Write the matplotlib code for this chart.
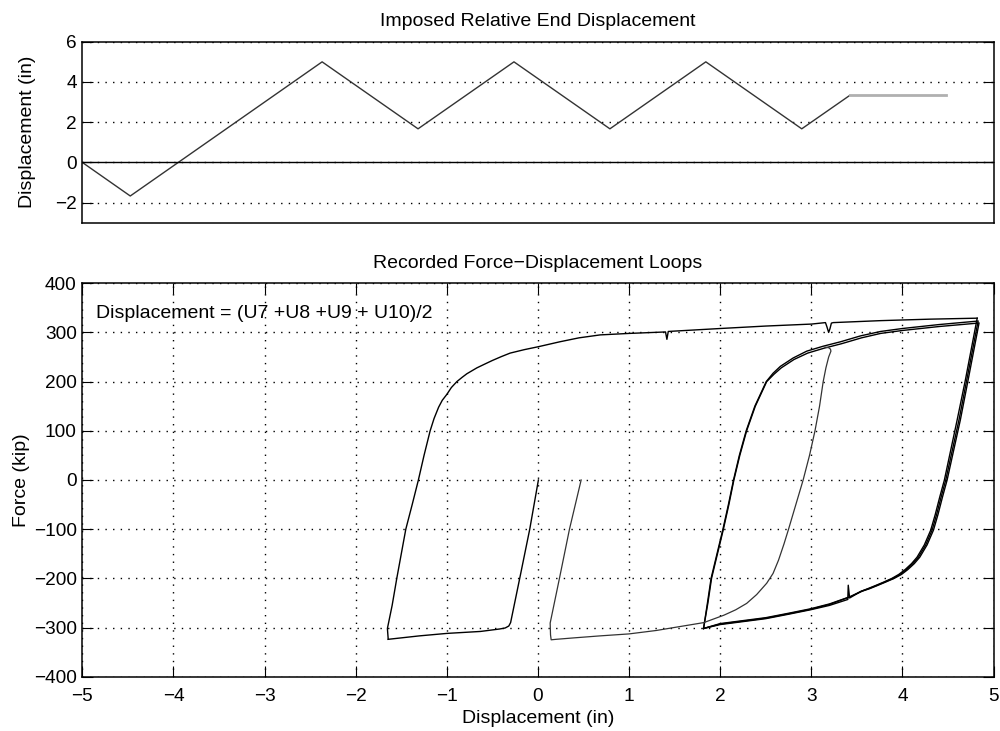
import matplotlib
matplotlib.use("Agg")
import matplotlib.pyplot as plt

plt.rcParams['font.family'] = ['Liberation Sans', 'DejaVu Sans']
plt.rcParams['axes.unicode_minus'] = True

# ---------------- Top panel: imposed displacement history ----------------
step_t = [0, 1, 5, 7, 9, 11, 13, 15, 16]
step_d = [0, -1.67, 5, 1.67, 5, 1.67, 5, 1.67, 3.33]
hold_t = [16, 18]
hold_d = [3.33, 3.33]
top_yticks = [-2, 0, 2, 4, 6]

# ---------------- Bottom panel: force-displacement loops ----------------
# initial push to negative
init_x = [0.005, -0.09, -0.20, -0.30, -0.32, -0.36, -0.42, -0.63, -1.00, -1.30, -1.643]
init_f = [0, -100, -200, -290, -297, -301, -303, -308, -312, -317, -324]

# first full loading branch (negative corner to positive peak)
load1_x = [-1.643, -1.652, -1.60, -1.549, -1.45, -1.38, -1.312, -1.25, -1.183,
           -1.14, -1.09, -1.05, -1.00, -0.95, -0.89, -0.83, -0.78, -0.67, -0.58,
           -0.50, -0.40, -0.305, -0.15, 0.005, 0.24, 0.45, 0.683, 1.0, 1.40,
           1.415, 1.43, 2.0, 2.5, 3.0, 3.155, 3.17, 3.19, 3.205, 3.22, 3.24,
           3.76, 4.3, 4.82]
load1_f = [-324, -302, -255, -200, -100, -50, 0, 50, 100,
           125, 148, 162, 174, 188, 200, 209, 216, 228, 236,
           243, 251, 258, 265, 271, 281, 289, 295, 298, 301,
           286, 302, 308, 313, 317, 320, 312, 300, 308, 319, 320,
           324, 327, 329]

# unloading branches (three cycles)
unl1_x = [4.82, 4.69, 4.60, 4.46, 4.41, 4.36, 4.31, 4.24, 4.16, 4.10, 4.03, 3.96,
          3.885, 3.79, 3.70, 3.62, 3.54, 3.42, 3.405, 3.40, 3.20, 2.99, 2.75,
          2.50, 2.25, 2.00, 1.817]
unl1_f = [329, 203, 122, 0, -34, -70, -102, -132, -157, -170, -182, -192,
          -200, -208, -215, -221, -227, -240, -214, -243, -255, -264, -273,
          -282, -288, -294, -302]
unl2_x = [4.83, 4.705, 4.62, 4.475, 4.425, 4.375, 4.325, 4.255, 4.175, 4.115,
          4.045, 3.975, 3.90, 3.80, 3.71, 3.63, 3.55, 3.42, 3.20, 2.99, 2.75,
          2.50, 2.25, 2.00, 1.817]
unl2_f = [323, 203, 122, 0, -34, -70, -102, -132, -157, -170, -182, -192,
          -200, -208, -215, -221, -226, -238, -253, -263, -272, -281, -287,
          -293, -302]
unl3_x = [4.84, 4.72, 4.635, 4.49, 4.44, 4.39, 4.34, 4.27, 4.19, 4.13, 4.06,
          3.99, 3.91, 3.81, 3.72, 3.64, 3.56, 3.43, 3.20, 2.99, 2.75, 2.50,
          2.25, 2.00, 1.817]
unl3_f = [319, 203, 122, 0, -34, -70, -102, -132, -157, -170, -182, -192,
          -200, -208, -215, -221, -226, -237, -252, -262, -271, -280, -286,
          -292, -302]

# reloading branches (two cycles)
rel1_x = [1.817, 1.86, 1.90, 1.965, 2.03, 2.09, 2.146, 2.21, 2.285, 2.38, 2.505,
          2.58, 2.66, 2.80, 2.95, 3.13, 3.32, 3.54, 3.76, 4.0, 4.4, 4.82]
rel1_f = [-302, -250, -200, -150, -100, -50, 0, 50, 100, 150, 200,
          217, 231, 248, 262, 272, 281, 293, 302, 308, 316, 323]
rel2_x = [1.817, 1.865, 1.905, 1.97, 2.035, 2.095, 2.15, 2.215, 2.29, 2.385,
          2.51, 2.59, 2.67, 2.81, 2.96, 3.14, 3.33, 3.55, 3.76, 4.0, 4.4, 4.83]
rel2_f = [-302, -250, -200, -150, -100, -50, 0, 50, 100, 150,
          200, 215, 228, 245, 258, 268, 277, 289, 298, 304, 312, 319]

# last partial cycle (thin inner curve)
last_x = [0.474, 0.346, 0.236, 0.134, 0.138, 0.145, 0.20, 0.40, 0.683, 1.0, 1.30,
          1.56, 1.82, 2.04, 2.17, 2.29, 2.40, 2.51, 2.58, 2.64, 2.70, 2.75,
          2.83, 2.91, 2.98, 3.04, 3.09, 3.13, 3.16, 3.19, 3.215, 3.21, 3.19, 3.15]
last_f = [0, -100, -200, -291, -315, -325, -324, -321, -317, -313, -306,
          -298, -290, -275, -264, -251, -233, -210, -190, -163, -130, -100,
          -50, 0, 50, 100, 150, 200, 228, 250, 262, 266, 269, 270]

bot_xticks = [-5, -4, -3, -2, -1, 0, 1, 2, 3, 4, 5]
bot_yticks = [-400, -300, -200, -100, 0, 100, 200, 300, 400]

# ---------------- Figure ----------------
fig = plt.figure(figsize=(10, 7.31), dpi=100)
ax1 = fig.add_axes([0.0823, 0.6953, 0.9113, 0.2476])
ax2 = fig.add_axes([0.0823, 0.0743, 0.9113, 0.5382])

grid_kw = dict(color='black', linestyle=(0, (1, 4.5)), linewidth=1.0)
fs = 14

# top
ax1.plot(step_t, step_d, color='#333333', lw=1.0)
ax1.plot(hold_t, hold_d, color='#b0b0b0', lw=2.0)
ax1.axhline(0, color='black', lw=1.0)
ax1.set_xlim(0, 19)
ax1.set_ylim(-3, 6)
ax1.set_yticks(top_yticks)
ax1.set_xticks([])
ax1.yaxis.grid(True, **grid_kw)
ax1.set_axisbelow(True)
ax1.tick_params(axis='y', direction='in', length=8, left=True, right=True,
                labelsize=13.7, pad=4)
ax1.set_ylabel('Displacement (in)', fontsize=fs, labelpad=14)
ax1.set_title('Imposed Relative End Displacement', fontsize=fs, pad=11)

# bottom
lw = 1.0
ax2.plot(init_x, init_f, color='black', lw=lw)
ax2.plot(load1_x, load1_f, color='black', lw=lw)
for xs, fsv in [(unl1_x, unl1_f), (unl2_x, unl2_f), (unl3_x, unl3_f),
                (rel1_x, rel1_f), (rel2_x, rel2_f)]:
    ax2.plot(xs, fsv, color='black', lw=lw)
ax2.plot(last_x, last_f, color='#333333', lw=0.9)
ax2.set_xlim(-5, 5)
ax2.set_ylim(-400, 400)
ax2.set_xticks(bot_xticks)
ax2.set_yticks(bot_yticks)
ax2.grid(True, **grid_kw)
ax2.set_axisbelow(True)
ax2.tick_params(axis='both', direction='in', length=8, top=True, right=True,
                labelsize=13.7)
ax2.tick_params(axis='x', pad=8)
ax2.tick_params(axis='y', pad=4)
ax2.set_xlabel('Displacement (in)', fontsize=fs, labelpad=4)
ax2.set_ylabel('Force (kip)', fontsize=fs, labelpad=3)
ax2.set_title('Recorded Force\u2212Displacement Loops', fontsize=fs, pad=11)
ax2.text(-4.853, 329, 'Displacement = (U7 +U8 +U9 + U10)/2', fontsize=fs,
         va='baseline', ha='left')

for ax in (ax1, ax2):
    for s in ax.spines.values():
        s.set_linewidth(1.1)

fig.savefig('out.png', dpi=100)
